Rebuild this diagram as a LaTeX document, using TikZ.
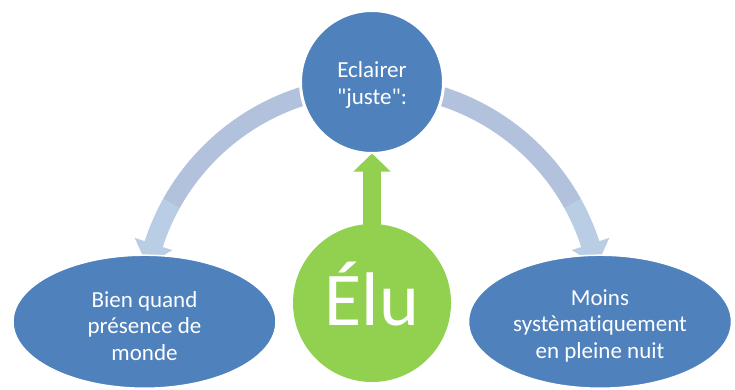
\documentclass[tikz,border=0pt]{standalone}
\usepackage{fontspec}
\setmainfont{Carlito}[Ligatures={TeXOff,NoCommon}]
\usepackage{xcolor}
\usetikzlibrary{shapes.geometric,arrows.meta}
\definecolor{nodeblue}{HTML}{4F81BD}
\definecolor{elugreen}{HTML}{92D050}
\definecolor{banddark}{HTML}{B3C2DC}
\definecolor{bandlight}{HTML}{B9CDE5}

\begin{document}
\begin{tikzpicture}[x=1pt,y=1pt,
bl/.style={fill=nodeblue, draw=white, outer sep=0pt, inner sep=0pt},
oval/.style={bl, ellipse, minimum width=263pt, minimum height=133pt, line width=1.5pt},
txt/.style={text=white, inner sep=0pt, align=center, font=\fontsize{23}{26.5}\selectfont},
band/.style={fill=banddark},
bandhead/.style={fill=bandlight}]
	\useasboundingbox[fill=white] (0,0) rectangle (735,389);
	\coordinate (hub) at (372,74);
	% curved arrows round the hub
	\begin{scope}[shift={(hub)}]
		\fill[band] (100:239) arc[start angle=100,end angle=151,radius=239] -- (151:220) arc[start angle=151,end angle=100,radius=220] -- cycle;
		\fill[bandhead] (151:239) arc[start angle=151,end angle=162,radius=239] -- (162:249.5) -- (167.5:230.5) -- (162:210) -- (162:220) arc[start angle=162,end angle=151,radius=220] -- cycle;
		\fill[band] (80:239) arc[start angle=80,end angle=29,radius=239] -- (29:220) arc[start angle=29,end angle=80,radius=220] -- cycle;
		\fill[bandhead] (29:239) arc[start angle=29,end angle=18,radius=239] -- (18:249.5) -- (12.5:230.5) -- (18:210) -- (18:220) arc[start angle=18,end angle=29,radius=220] -- cycle;
	\end{scope}

	\node[bl, circle, minimum size=143pt, line width=3pt] at (372,307) (eclairer) {};
	\node[oval] at (144.5,67.3) (bien) {};
	\node[oval] at (600,67.3) (moins) {};
	\node[txt] at ([yshift=-3pt]eclairer.center) (eclairertext) {Eclairer\\"juste":};
	\node[txt] at ([yshift=-4pt]bien.center) (bientext) {Bien quand\\présence de\\monde};
	\node[txt] at ([yshift=-4pt]moins.center) (moinstext) {Moins\\systèmatiquement\\en pleine nuit};

	\node[circle, fill=elugreen, minimum size=158pt, inner sep=0pt, text=white, font=\fontsize{76}{80}\selectfont, text height=44pt, text depth=0pt] at (372,86) (elu) {Élu};
	\draw[elugreen, line width=18pt, -{Triangle[width=36pt,length=18pt]}] ([yshift=-3pt]elu.north) -- (eclairer.south);
\end{tikzpicture}
\end{document}
